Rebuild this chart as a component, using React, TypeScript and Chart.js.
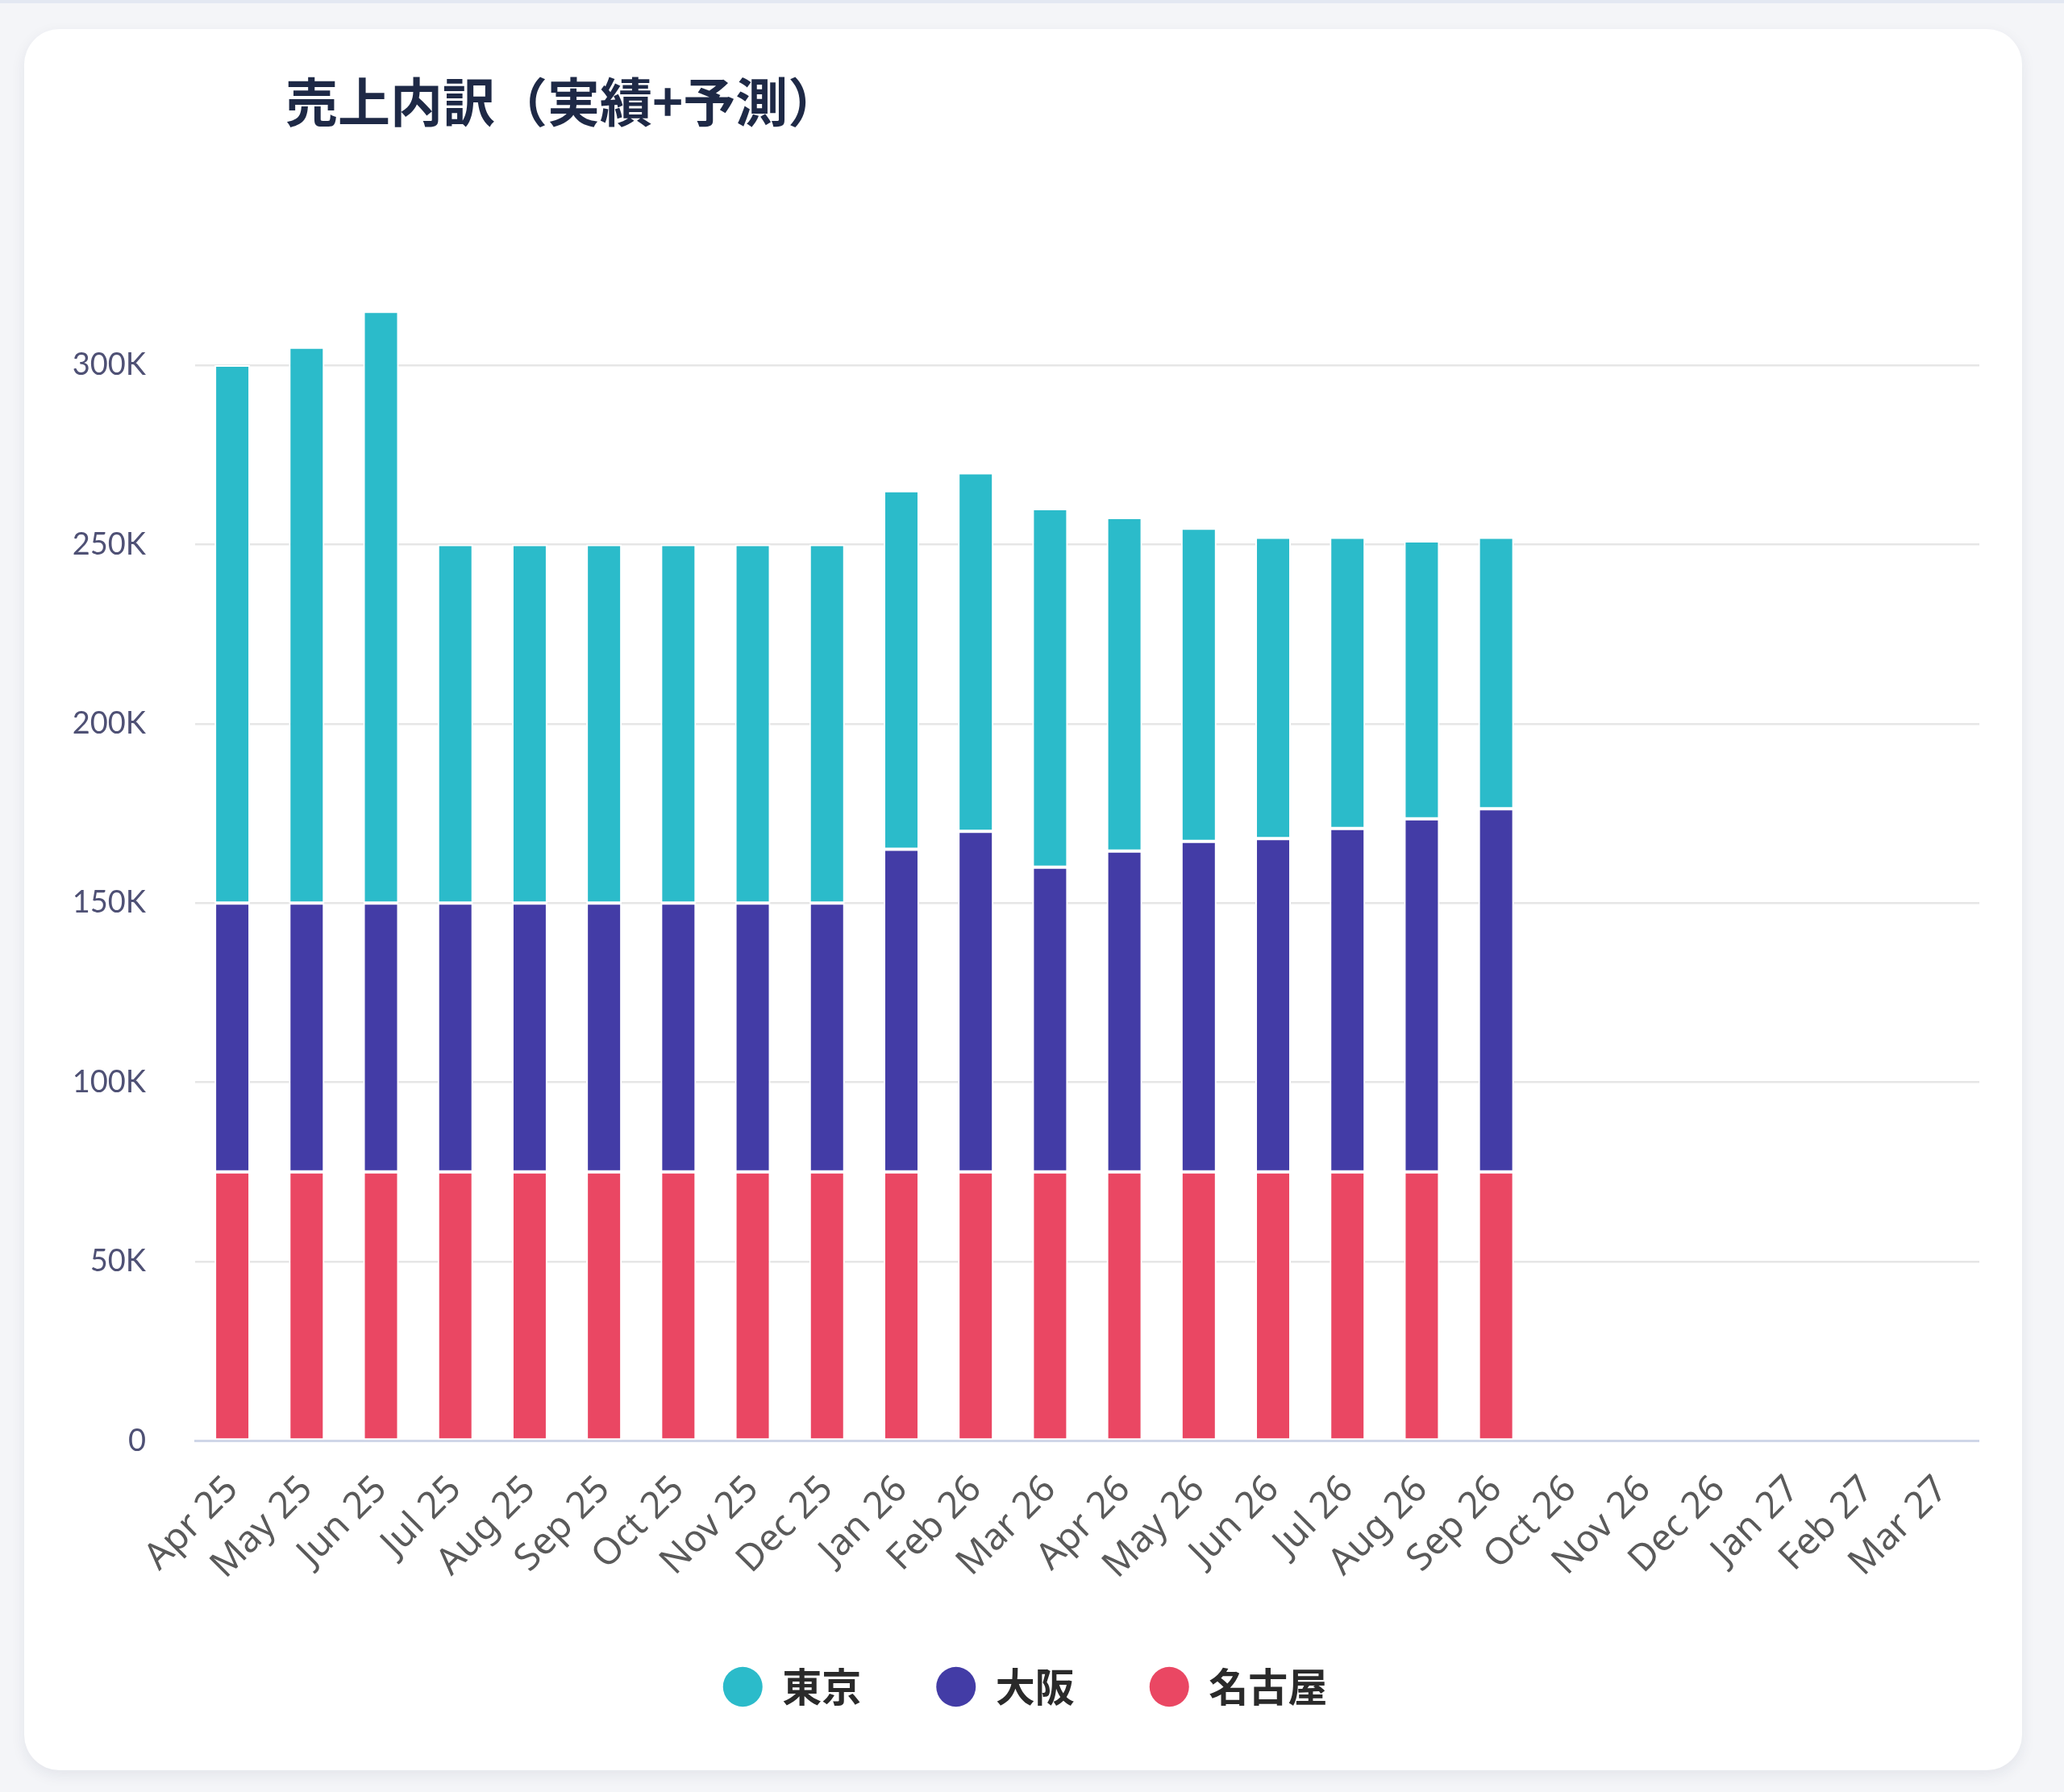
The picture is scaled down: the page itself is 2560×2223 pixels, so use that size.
import React, { useEffect, useRef } from 'react';
import { Chart, registerables } from 'chart.js';

Chart.register(...registerables);

const months = [
  'Apr 25', 'May 25', 'Jun 25', 'Jul 25', 'Aug 25', 'Sep 25', 'Oct 25', 'Nov 25', 'Dec 25',
  'Jan 26', 'Feb 26', 'Mar 26', 'Apr 26', 'May 26', 'Jun 26', 'Jul 26', 'Aug 26', 'Sep 26',
  'Oct 26', 'Nov 26', 'Dec 26', 'Jan 27', 'Feb 27', 'Mar 27',
];

const tokyo = [
  150000, 155000, 165000, 100000, 100000, 100000, 100000, 100000, 100000,
  100000, 100000, 100000, 93000, 87300, 84000, 81200, 77500, 75700,
  null, null, null, null, null, null,
];

const osaka = [
  75000, 75000, 75000, 75000, 75000, 75000, 75000, 75000, 75000,
  90000, 95000, 85000, 89500, 92200, 93000, 95800, 98500, 101300,
  null, null, null, null, null, null,
];

const nagoya = [
  75000, 75000, 75000, 75000, 75000, 75000, 75000, 75000, 75000,
  75000, 75000, 75000, 75000, 75000, 75000, 75000, 75000, 75000,
  null, null, null, null, null, null,
];

const seriesNames = ['東京', '大阪', '名古屋'];
const seriesColors = ['#2bbbca', '#433ca6', '#ea4763'];

const yTickValues = [0, 50000, 100000, 150000, 200000, 250000, 300000];
const titleText = '売上内訳（実績+予測）';
const yMax = 320000;

export default function App() {
  const canvasRef = useRef<HTMLCanvasElement | null>(null);

  useEffect(() => {
    const canvas = canvasRef.current;
    if (!canvas) return;
    const barCommon = {
      borderColor: '#ffffff',
      borderWidth: 2,
      borderSkipped: false as const,
      inflateAmount: 0,
      barPercentage: 0.477,
      categoryPercentage: 1.0,
    };
    const chart = new Chart(canvas, {
      type: 'bar',
      data: {
        labels: months,
        datasets: [
          { label: seriesNames[2], data: nagoya, backgroundColor: seriesColors[2], ...barCommon },
          { label: seriesNames[1], data: osaka, backgroundColor: seriesColors[1], ...barCommon },
          { label: seriesNames[0], data: tokyo, backgroundColor: seriesColors[0], ...barCommon },
        ],
      },
      options: {
        responsive: false,
        animation: false,
        events: [],
        layout: { padding: { top: 0, right: 0, bottom: 0, left: 0 } },
        plugins: {
          title: { display: false },
          tooltip: { enabled: false },
          legend: {
            display: true,
            position: 'bottom',
            reverse: true,
            labels: {
              usePointStyle: true,
              pointStyle: 'circle',
              boxHeight: 35,
              pointStyleWidth: 49,
              padding: 93,
              color: '#2a2a2a',
              font: { family: "'Noto Sans CJK JP', 'Noto Sans', sans-serif", size: 49, weight: 'bold' },
              generateLabels: (c: any) =>
                Chart.defaults.plugins.legend.labels
                  .generateLabels(c)
                  .map((l: any) => ({ ...l, lineWidth: 0, strokeStyle: l.fillStyle })),
            },
          },
        },
        scales: {
          x: {
            stacked: true,
            offset: true,
            grid: { display: false, drawTicks: false },
            border: { display: true, color: '#cfd6e8', width: 3 },
            ticks: {
              autoSkip: false,
              minRotation: 45,
              maxRotation: 45,
              padding: 33,
              color: '#5a5a5a',
              font: { family: "'Noto Sans', sans-serif", size: 46 },
            },
            afterFit: (scale: any) => {
              scale.height = 187.5;
              scale.paddingLeft = 0;
              scale.paddingRight = 0;
            },
          },
          y: {
            stacked: true,
            min: 0,
            max: yMax,
            grid: { color: '#e6e6e6', lineWidth: 2.5, drawTicks: false },
            border: { display: false },
            ticks: {
              padding: 61,
              color: '#4f5175',
              font: { family: "Lato, 'Open Sans', sans-serif", size: 38 },
              callback: (v: any) => (Number(v) === 0 ? '0' : Math.round(Number(v) / 1000) + 'K'),
            },
            afterBuildTicks: (scale: any) => {
              scale.ticks = yTickValues.map((v) => ({ value: v }));
            },
            afterFit: (scale: any) => {
              scale.width = 154;
              scale.paddingTop = 0;
              scale.paddingBottom = 0;
            },
          },
        },
      },
    });
    return () => chart.destroy();
  }, []);

  return (
    <div
      style={{
        position: 'fixed',
        left: 0,
        top: 0,
        width: 2560,
        height: 2223,
        background: '#f4f5f8',
        overflow: 'hidden',
      }}
    >
      <div style={{ position: 'absolute', left: 0, top: 0, width: 2560, height: 4, background: '#e3e8f2' }} />
      <div
        style={{
          position: 'absolute',
          left: 30,
          top: 36,
          width: 2478,
          height: 2160,
          borderRadius: 44,
          background: '#ffffff',
          boxShadow: '0 6px 18px rgba(30,40,80,0.08)',
        }}
      />
      <div
        style={{
          position: 'absolute',
          left: 354,
          top: 91,
          fontFamily: "'Noto Sans CJK JP', sans-serif",
          fontWeight: 700,
          fontSize: 65,
          lineHeight: '65px',
          color: '#1e2946',
          whiteSpace: 'nowrap',
        }}
      >
        {titleText}
      </div>
      <canvas
        ref={canvasRef}
        width={2367}
        height={1763}
        style={{ position: 'absolute', left: 88, top: 364, width: 2367, height: 1763 }}
      />
    </div>
  );
}
